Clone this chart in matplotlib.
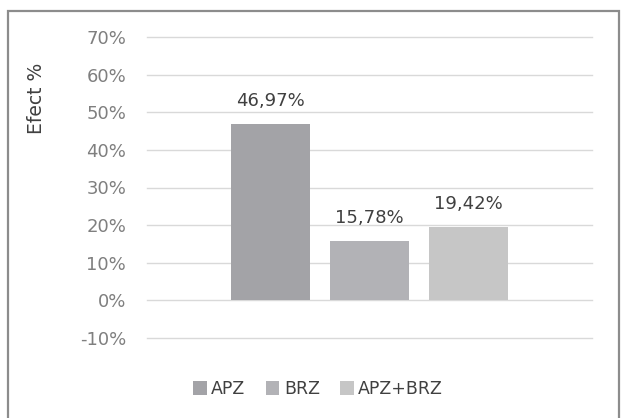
import matplotlib.pyplot as plt
from matplotlib.patches import Rectangle, Patch

# data
series = ["APZ", "BRZ", "APZ+BRZ"]
values = [46.97, 15.78, 19.42]
colors = ["#a3a3a7", "#b2b2b6", "#c6c6c6"]
yticks = [-10, 0, 10, 20, 30, 40, 50, 60, 70]

plt.rcParams['font.family'] = ['DejaVu Sans']

fig = plt.figure(figsize=(6.21, 4.18), dpi=100)
fig.patch.set_facecolor("white")

# outer chart frame
fig.patches.append(Rectangle((8 / 621, -0.05), 611 / 621, 1.05 - 11 / 418,
                             transform=fig.transFigure, fill=False,
                             edgecolor="#8c8c8c", linewidth=1.6))

ax = fig.add_axes([147 / 621, 1 - 338 / 418, 445 / 621, 301 / 418])

x = list(range(len(values)))
ax.bar(x, values, width=0.79, color=colors, zorder=3)

for xi, v in zip(x, values):
    ax.annotate(f"{v:.2f}".replace(".", ",") + "%", (xi, v),
                xytext=(0, 13), textcoords="offset points",
                ha="center", va="baseline", fontsize=13, color="#404040")

ax.set_xlim(1 - 2.245, 1 + 2.245)
ax.set_ylim(-10, 70)
ax.set_yticks(yticks)
ax.set_yticklabels([f"{t}%" for t in yticks], fontsize=13, color="#7f7f7f")
ax.set_xticks([])
ax.tick_params(axis="y", length=0, pad=15)
ax.grid(axis="y", color="#d9d9d9", linewidth=1, zorder=0)
for gl in ax.get_ygridlines():
    gl.set_clip_on(False)
for s in ax.spines.values():
    s.set_visible(False)

fig.text(37 / 621, 1 - 98 / 418, "Efect %", rotation=90, ha="center",
         va="center", fontsize=13.5, color="#404040")

handles = [Patch(facecolor=c, edgecolor="none") for c in colors]
fig.legend(handles, series, loc="center", bbox_to_anchor=(318 / 621, 1 - 389 / 418),
           ncol=3, frameon=False, fontsize=12.5, handlelength=0.8, handleheight=0.8,
           handletextpad=0.25, columnspacing=1.15, labelcolor="#404040")

fig.savefig("out.png", dpi=100)
